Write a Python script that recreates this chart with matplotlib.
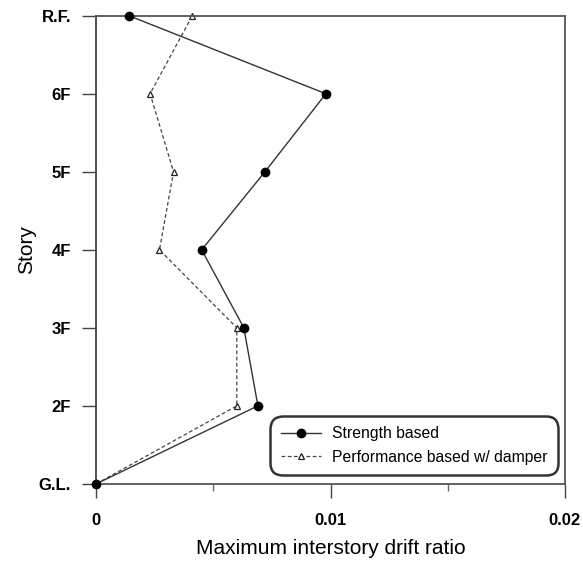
import numpy as np
import matplotlib.pyplot as plt
from matplotlib.ticker import MultipleLocator

plt.rcParams['font.family'] = ['Liberation Sans', 'DejaVu Sans']

stories = ['G.L.', '2F', '3F', '4F', '5F', '6F', 'R.F.']
strength = [0.0, 0.0069, 0.0063, 0.0045, 0.0072, 0.0098, 0.0014]
performance = [0.0, 0.0060, 0.0060, 0.0027, 0.0033, 0.0023, 0.0041]

y = np.arange(len(stories))

fig = plt.figure(figsize=(5.83, 5.62), dpi=100)
ax = fig.add_axes([0.165, 0.139, 0.804, 0.833])

ax.plot(strength, y, '-', color='#333333', lw=1.0, marker='o', ms=6,
        mfc='black', mec='black', label='Strength based', zorder=3)
ax.plot(performance, y, '--', color='#444444', lw=0.9, marker='^', ms=4,
        mfc='white', mec='#222222', mew=0.9, dashes=(3, 2),
        label='Performance based w/ damper', zorder=2)

ax.set_xlim(0, 0.02)
ax.set_ylim(0, len(stories) - 1)
ax.set_xticks([0, 0.01, 0.02])
ax.set_xticklabels(['0', '0.01', '0.02'])
ax.xaxis.set_minor_locator(MultipleLocator(0.005))
ax.set_yticks(y)
ax.set_yticklabels(stories)

for s in ax.spines.values():
    s.set_color('#555555')
    s.set_linewidth(1.3)
ax.spines['left'].set_color('#444444')

ax.tick_params(axis='both', which='major', direction='out', length=10,
               width=1, color='#444444', labelsize=12, pad=8)
ax.tick_params(axis='x', which='minor', direction='out', length=5,
               width=1, color='#666666')
ax.tick_params(axis='x', which='major', pad=11)
for lab in ax.get_xticklabels() + ax.get_yticklabels():
    lab.set_fontweight('bold')

ax.set_xlabel('Maximum interstory drift ratio', fontsize=15, labelpad=8)
ax.set_ylabel('Story', fontsize=15, labelpad=2)

leg = ax.legend(loc='lower right', bbox_to_anchor=(0.982, 0.022),
                borderaxespad=0, fontsize=11.3, frameon=True, fancybox=True,
                handlelength=2.6, handletextpad=0.7, borderpad=0.55,
                labelspacing=0.55)
leg.get_frame().set_edgecolor('black')
leg.get_frame().set_linewidth(1.8)
leg.get_frame().set_boxstyle('round,pad=0.1,rounding_size=0.8')

for line in ax.lines:
    line.set_clip_on(False)

fig.savefig('out.png', dpi=100)
